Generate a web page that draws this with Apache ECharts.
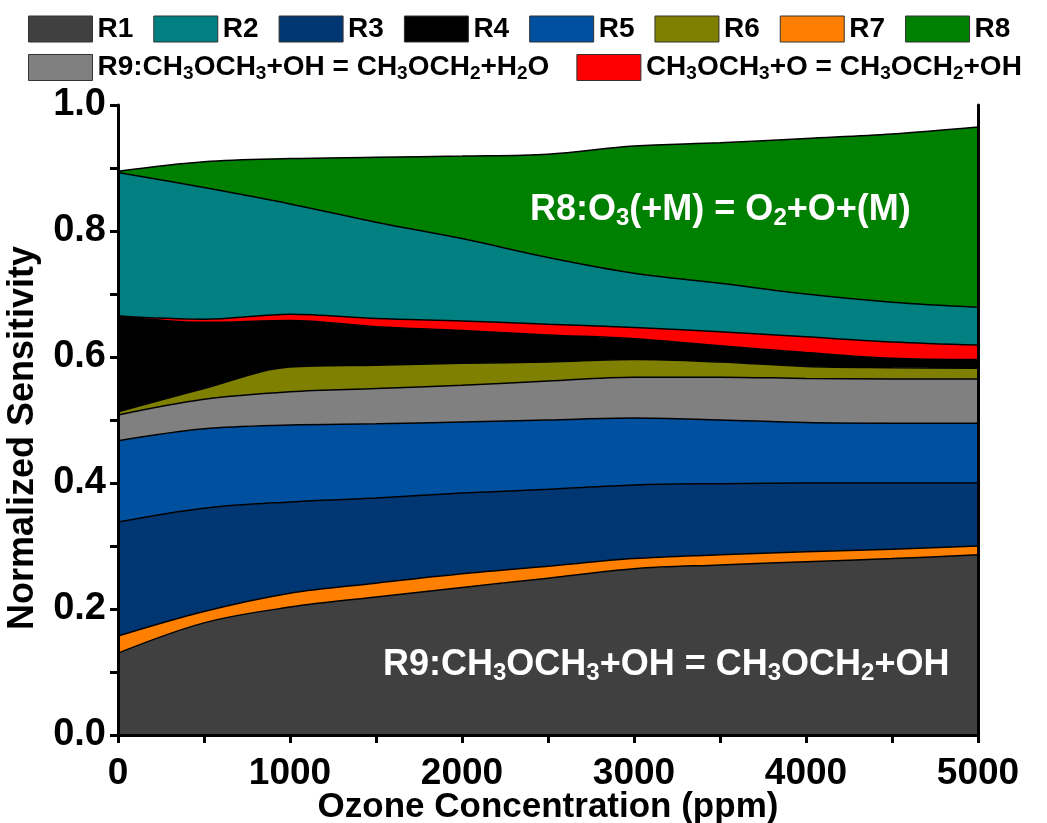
<!DOCTYPE html>
<html>
<head>
<meta charset="utf-8">
<script src="https://cdn.jsdelivr.net/npm/echarts@6/dist/echarts.min.js"></script>
<style>
html,body{margin:0;padding:0;background:#fff;}
#chart{width:1047px;height:823px;}
</style>
</head>
<body>
<div id="chart"></div>
<script>
// Ozone concentration (ppm)
const ozone = [0, 500, 1000, 1500, 2000, 2500, 3000, 3500, 4000, 4500, 5000];
// Layer thicknesses (normalized sensitivity), stacked bottom -> top
const R1  = [0.130, 0.178, 0.203, 0.219, 0.234, 0.249, 0.264, 0.270, 0.275, 0.280, 0.286];
const R7  = [0.027, 0.018, 0.022, 0.022, 0.022, 0.019, 0.016, 0.016, 0.016, 0.015, 0.014];
const R3  = [0.181, 0.164, 0.145, 0.135, 0.128, 0.122, 0.117, 0.113, 0.109, 0.105, 0.100];
const R5  = [0.129, 0.126, 0.122, 0.118, 0.113, 0.110, 0.106, 0.101, 0.096, 0.095, 0.095];
const R9  = [0.041, 0.047, 0.053, 0.056, 0.058, 0.062, 0.065, 0.068, 0.070, 0.070, 0.070];
const R6  = [0.005, 0.017, 0.039, 0.037, 0.035, 0.030, 0.028, 0.024, 0.019, 0.018, 0.017];
const R4  = [0.152, 0.105, 0.074, 0.061, 0.052, 0.043, 0.033, 0.026, 0.022, 0.015, 0.014];
const RO  = [0.000, 0.005, 0.010, 0.013, 0.015, 0.017, 0.018, 0.022, 0.025, 0.026, 0.023];
const R2  = [0.228, 0.209, 0.175, 0.153, 0.131, 0.106, 0.086, 0.077, 0.068, 0.063, 0.060];
const R8  = [0.002, 0.041, 0.072, 0.103, 0.131, 0.164, 0.202, 0.223, 0.247, 0.267, 0.286];

const xTicks = [0, 1000, 2000, 3000, 4000, 5000];
const yTicks = [0.0, 0.2, 0.4, 0.6, 0.8, 1.0];

const layers = [
  {name: 'R1', data: R1, color: '#404040'},
  {name: 'R7', data: R7, color: '#FF8000'},
  {name: 'R3', data: R3, color: '#003671'},
  {name: 'R5', data: R5, color: '#0050A0'},
  {name: 'R9', data: R9, color: '#808080'},
  {name: 'R6', data: R6, color: '#808000'},
  {name: 'R4', data: R4, color: '#000000'},
  {name: 'RO', data: RO, color: '#FF0000'},
  {name: 'R2', data: R2, color: '#008080'},
  {name: 'R8', data: R8, color: '#008000'}
];

const legendLabels = {
  R9: '{n|R9:CH}{s|3}{n|OCH}{s|3}{n|+OH = CH}{s|3}{n|OCH}{s|2}{n|+H}{s|2}{n|O}',
  RO: '{n|CH}{s|3}{n|OCH}{s|3}{n|+O = CH}{s|3}{n|OCH}{s|2}{n|+OH}'
};
const annoR8 = '{n|R8:O}{s|3}{n|(+M) = O}{s|2}{n|+O+(M)}';
const annoR9 = '{n|R9:CH}{s|3}{n|OCH}{s|3}{n|+OH = CH}{s|3}{n|OCH}{s|2}{n|+OH}';

const FONT = "'Liberation Sans', Arial, sans-serif";

const legRich = {
  n: {fontFamily: FONT, fontWeight: 'bold', fontSize: 28, color: '#000', lineHeight: 30},
  s: {fontFamily: FONT, fontWeight: 'bold', fontSize: 19, color: '#000', lineHeight: 19, padding: [12, 0, 0, 0]}
};
const annoRich = {
  n: {fontFamily: FONT, fontWeight: 'bold', fontSize: 36, fill: '#fff', lineHeight: 40},
  s: {fontFamily: FONT, fontWeight: 'bold', fontSize: 24, fill: '#fff', lineHeight: 24, padding: [16, 0, 0, 0]}
};

const chart = echarts.init(document.getElementById('chart'), null, {renderer: 'canvas'});

const legendCommon = {
  icon: 'rect',
  itemWidth: 64,
  itemHeight: 26,
  orient: 'horizontal',
  itemStyle: {borderColor: '#333', borderWidth: 1},
  textStyle: {fontFamily: FONT, fontWeight: 'bold', fontSize: 28, color: '#000', rich: legRich},
  formatter: function (name) { return legendLabels[name] ? legendLabels[name] : '{n|' + name + '}'; },
  selectedMode: false,
  padding: 0
};

const cats = ozone.map(String);

chart.setOption({
  animation: false,
  backgroundColor: '#fff',
  legend: [
    Object.assign({}, legendCommon, {left: 28, top: 15, itemGap: 20, data: ['R1','R2','R3','R4','R5','R6','R7','R8']}),
    Object.assign({}, legendCommon, {left: 28, top: 52, itemGap: 27, data: ['R9','RO']})
  ],
  grid: {left: 118, right: 69, top: 105, bottom: 88, containLabel: false, outerBoundsMode: 'none'},
  xAxis: [{
    type: 'category', data: cats, boundaryGap: false,
    name: 'Ozone Concentration (ppm)', nameLocation: 'middle', nameGap: 55, nameMoveOverlap: false,
    nameTextStyle: {fontFamily: FONT, fontWeight: 'bold', fontSize: 35, color: '#000', verticalAlign: 'top'},
    axisLine: {show: true, lineStyle: {color: '#000', width: 3}},
    axisTick: {show: true, length: 8, interval: 0, lineStyle: {color: '#000', width: 3}},
    axisLabel: {
      fontFamily: FONT, fontWeight: 'bold', fontSize: 37, color: '#000', margin: 20, interval: 0,
      formatter: function (v) { return xTicks.indexOf(Number(v)) >= 0 ? String(v) : ''; }
    },
    splitLine: {show: false}, z: 10
  }, {
    type: 'category', data: cats, boundaryGap: false, position: 'top',
    axisLine: {show: true, lineStyle: {color: '#000', width: 3}},
    axisTick: {show: false}, axisLabel: {show: false}, splitLine: {show: false}, z: 10
  }],
  yAxis: [{
    type: 'value', min: 0, max: 1.0, interval: 0.1,
    name: 'Normalized Sensitivity', nameLocation: 'middle', nameGap: 77, nameMoveOverlap: false,
    nameTextStyle: {fontFamily: FONT, fontWeight: 'bold', fontSize: 36, color: '#000', padding: [0, 36, 0, 0]},
    axisLine: {show: true, lineStyle: {color: '#000', width: 3}},
    axisTick: {show: true, length: 8, lineStyle: {color: '#000', width: 3}},
    axisLabel: {
      fontFamily: FONT, fontWeight: 'bold', fontSize: 38, color: '#000', margin: 12,
      formatter: function (v) {
        const r = Math.round(v * 10) / 10;
        return yTicks.some(t => Math.abs(t - r) < 1e-6) ? r.toFixed(1) : '';
      }
    },
    splitLine: {show: false}, z: 10
  }, {
    type: 'value', position: 'right', min: 0, max: 1.0,
    axisLine: {show: true, lineStyle: {color: '#000', width: 3}},
    axisTick: {show: false}, axisLabel: {show: false}, splitLine: {show: false}, z: 10
  }],
  series: layers.map(function (l) {
    return {
      name: l.name,
      type: 'line',
      stack: 'total',
      data: l.data,
      color: l.color,
      itemStyle: {color: l.color},
      areaStyle: {color: l.color, opacity: 1},
      lineStyle: {color: '#000', width: 1.5},
      symbol: 'none',
      smooth: 0.35,
      xAxisIndex: 0, yAxisIndex: 0
    };
  }),
  graphic: [
    {type: 'text', left: 530, top: 190, z: 100, style: {text: annoR8, rich: annoRich, fill: '#fff', font: 'bold 36px ' + FONT}},
    {type: 'text', left: 383, top: 645, z: 100, style: {text: annoR9, rich: annoRich, fill: '#fff', font: 'bold 36px ' + FONT}}
  ]
});
</script>
</body>
</html>
